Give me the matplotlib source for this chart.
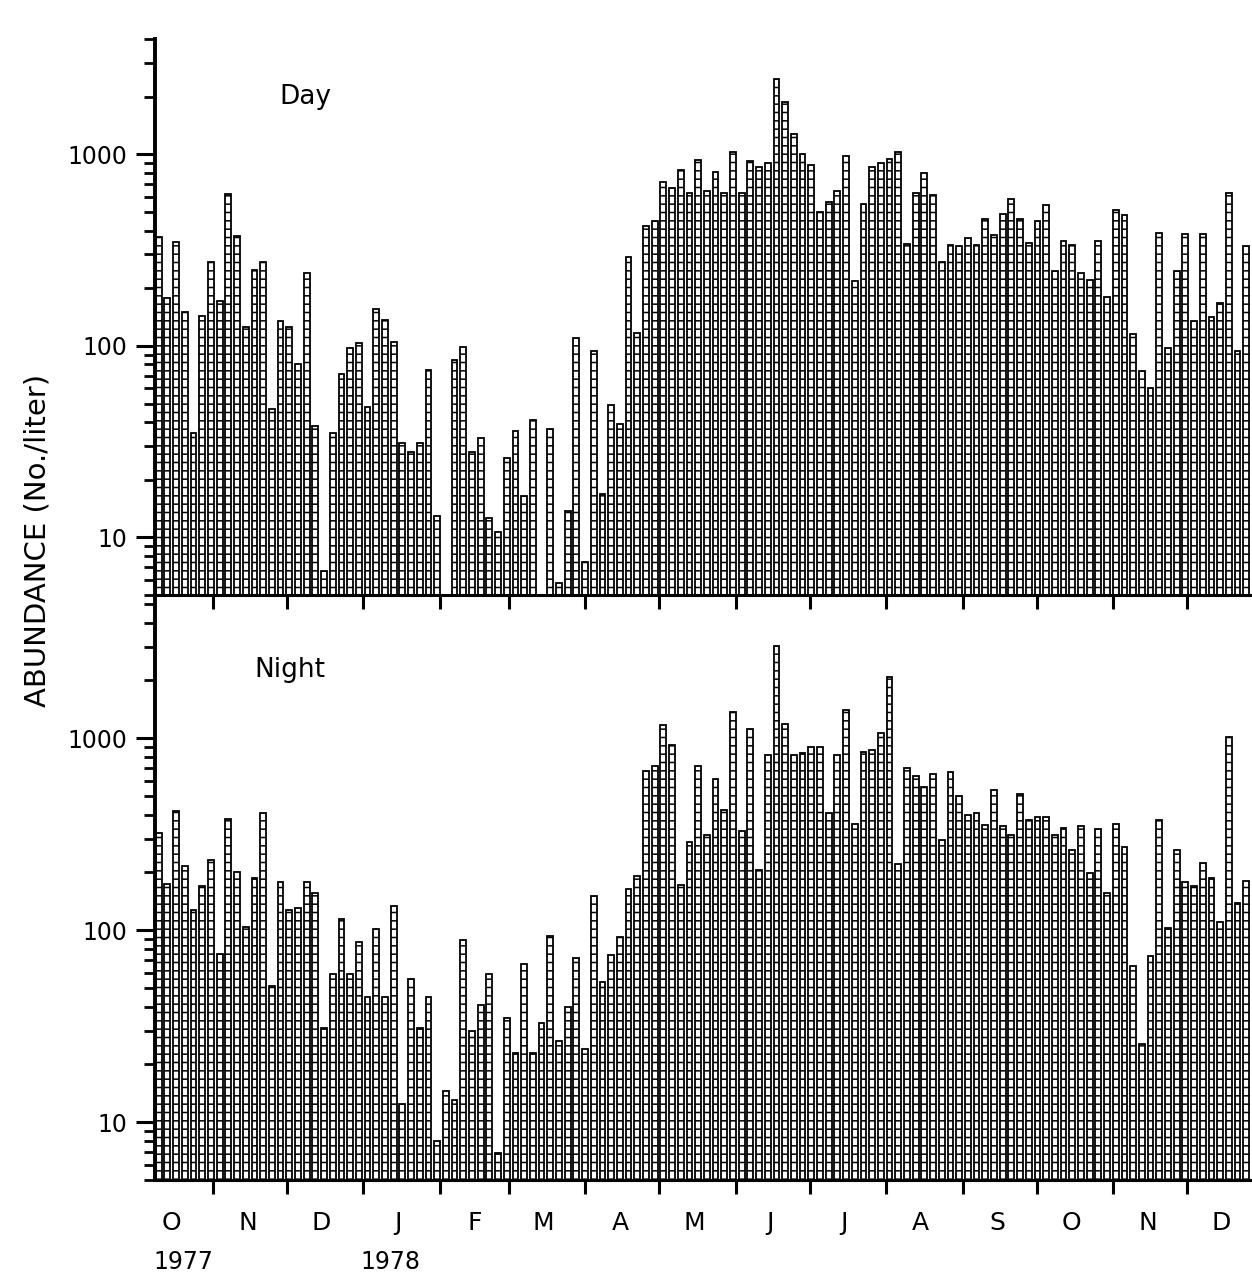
#!/usr/bin/env python

import numpy as np
import pandas
import matplotlib
matplotlib.use("Agg")
import matplotlib.pyplot as plt
import matplotlib.dates as mdates
from matplotlib import ticker

# twice-weekly samples, first and last sampling date; None means no sample taken
first_sample = "1977-10-10"
last_sample = "1978-12-25"

day_counts = [
    370, 177, 347, 150, 35, 144, 273, 171, 618, 375, 126, 250, 273, 47, 135, 126,
    80, 239, 38, 6.7, 35, 71, 97, 103, 48, 155, 136, 105, 31, 28, 31, 75,
    13, None, 84, 99, 28, 33, 12.7, 10.7, 26, 36, 16.4, 41, None, 37, 5.8, 13.7,
    110, 7.4, 94, 16.8, 49, 39, 290, 117, 425, 450, 720, 670, 825,
    625, 930, 641, 812, 626, 1024, 626, 919, 855, 902, 2473, 1869, 1271, 1000, 877, 498,
    565, 641, 976, 217, 551, 855, 902, 947, 1030, 339, 626, 795, 614, 273, 335,
    331, 364, 335, 458, 378, 486, 582, 458, 345, 447, 542, 245, 351, 335, 239, 220,
    351, 179, 510, 480, 115, 74, 60, 387, 98, 245, 382, 135, 382, 141, 167, 626, 94, 331,
]

night_counts = [
    322, 174, 417, 215, 128, 170, 231, 75, 378, 202, 104, 187, 408, 51, 178, 128,
    131, 178, 156, 31, 59, 114, 59, 87, 45, 101, 45, 134, 12.4, 56, 31, 45,
    8.0, 14.5, 13.1, 89, 30, 41, 59, 6.9, 35, 23, 67, 23, 33, 93, 26.5, 40,
    72, 24, 151, 54, 74, 92, 163, 191, 676, 715, 1167, 927, 172, 287, 715,
    312, 616, 425, 1371, 329, 1117, 206, 815, 3014, 1183, 815, 840, 904, 904, 408,
    815, 1400, 359, 847, 866, 1062, 2080, 220, 700, 632, 556, 651, 296, 665,
    499, 396, 408, 354, 537, 347, 313, 511, 374, 387, 387, 313, 340, 263, 348, 198,
    337, 156, 359, 270, 65, 25.6, 73, 374, 103, 261, 179, 169, 225, 187, 110, 1009, 138, 181,
]

month_letters = ["O", "N", "D", "J", "F", "M", "A", "M", "J", "J", "A", "S", "O", "N", "D"]
year_labels = ["1977", "1978"]
year_label_dates = ["1977-10-20", "1978-01-12"]

FONT = 17


def sample_days(counts):
    dates = pandas.date_range(first_sample, last_sample, periods=len(counts))
    return mdates.date2num(dates.to_pydatetime())


def style_axes(ax, ymax, show_months):
    ax.set_yscale("log")
    ax.set_ylim(5, ymax)
    ax.set_xlim(mdates.date2num(pandas.Timestamp("1977-10-08 12:00")),
                mdates.date2num(pandas.Timestamp("1978-12-26 12:00")))
    ax.patch.set_visible(False)

    ax.yaxis.set_major_locator(ticker.FixedLocator([10, 100, 1000]))
    ax.yaxis.set_major_formatter(ticker.FuncFormatter(lambda v, p: "%d" % v))
    ax.yaxis.set_minor_locator(ticker.LogLocator(base=10, subs=range(2, 10)))
    ax.yaxis.set_minor_formatter(ticker.NullFormatter())
    ax.tick_params(axis="y", which="major", direction="out", length=14, width=2.2,
                   labelsize=FONT, pad=6)
    ax.tick_params(axis="y", which="minor", direction="out", length=8, width=2)

    month_starts = pandas.date_range("1977-11-01", "1978-12-01", freq="MS")
    ax.xaxis.set_major_locator(ticker.FixedLocator(mdates.date2num(month_starts.to_pydatetime())))
    ax.xaxis.set_major_formatter(ticker.NullFormatter())
    ax.tick_params(axis="x", which="major", direction="out", length=10, width=2.2)
    if show_months:
        mids = pandas.date_range("1977-10-01", "1978-12-01", freq="MS") + pandas.Timedelta(days=14)
        ax.xaxis.set_minor_locator(ticker.FixedLocator(mdates.date2num(mids.to_pydatetime())))
        ax.xaxis.set_minor_formatter(ticker.FixedFormatter(month_letters))
        ax.tick_params(axis="x", which="minor", length=0, labelsize=FONT + 1, pad=22)
    else:
        ax.xaxis.set_minor_locator(ticker.NullLocator())

    for side in ["top", "right"]:
        ax.spines[side].set_visible(False)
    ax.spines["left"].set_linewidth(2.8)
    ax.spines["bottom"].set_linewidth(2.2)


def draw_bars(ax, counts):
    days = sample_days(counts)
    xs = [d for d, c in zip(days, counts) if c is not None]
    tops = [c for c in counts if c is not None]
    heights = [t - 1 for t in tops]
    ax.bar(xs, heights, bottom=1, width=2.35, color="white", edgecolor="black",
           linewidth=1.3, hatch="--")


def main():
    plt.rcParams["hatch.linewidth"] = 1.1
    fig = plt.figure(figsize=(12.52, 12.75), dpi=100)
    ax_day = fig.add_axes([0.1238, 0.5333, 0.8746, 0.4361])
    ax_night = fig.add_axes([0.1238, 0.0745, 0.8746, 0.4580])

    draw_bars(ax_day, day_counts)
    style_axes(ax_day, 4000, False)
    ax_day.text(0.137, 0.896, "Day", transform=ax_day.transAxes, fontsize=19,
                ha="center", va="center")

    draw_bars(ax_night, night_counts)
    style_axes(ax_night, 5500, True)
    ax_night.text(0.123, 0.873, "Night", transform=ax_night.transAxes, fontsize=19,
                  ha="center", va="center")

    for label, when in zip(year_labels, year_label_dates):
        ax_night.text(mdates.date2num(pandas.Timestamp(when)), -0.14, label,
                      transform=ax_night.get_xaxis_transform(), fontsize=FONT,
                      ha="center", va="center")

    fig.text(0.030, 0.576, "ABUNDANCE (No./liter)", rotation=90, fontsize=21,
             ha="center", va="center")

    fig.savefig("out.png", dpi=100)


if __name__ == "__main__":
    main()
